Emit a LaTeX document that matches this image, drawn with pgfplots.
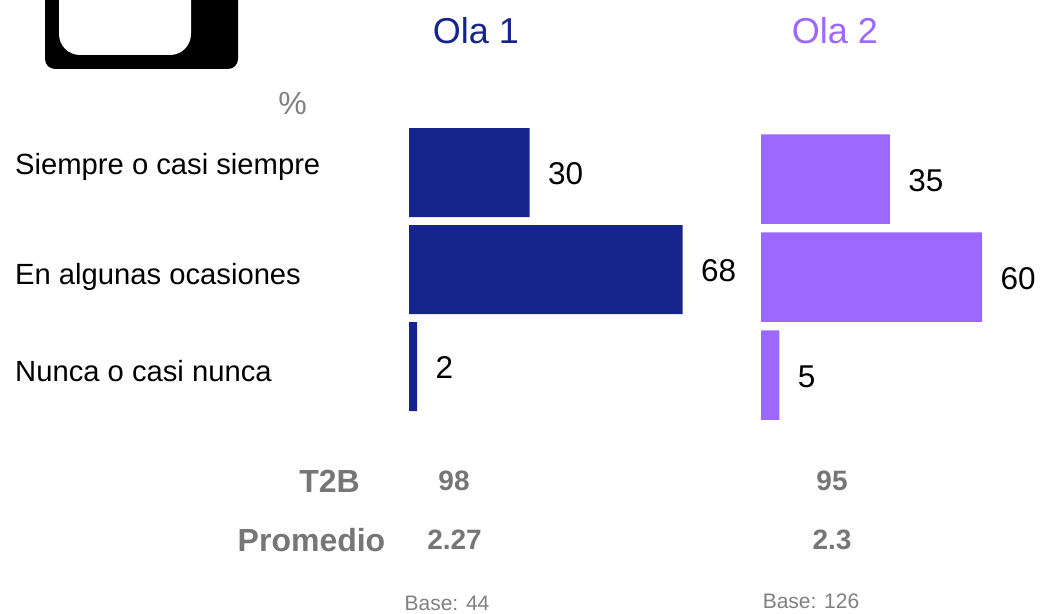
\documentclass[border=0pt]{standalone}
\usepackage{pgfplots}
\pgfplotsset{compat=1.18}
\usepackage{fontspec}
\setmainfont{Liberation Sans}
\definecolor{olaA}{HTML}{16258C}
\definecolor{olaB}{HTML}{9C68FF}
\definecolor{txtgray}{HTML}{767676}
\definecolor{basegray}{HTML}{808080}
\newcommand{\fs}[1]{\fontsize{#1}{#1}\selectfont}
\pgfplotsset{barax/.style={
  anchor=north west, scale only axis, hide axis, clip=false,
  xbar, xmin=0, ymin=0.5, ymax=3.5, y dir=reverse,
  bar width=#1,
  nodes near coords, nodes near coords align={horizontal},
  every node near coord/.append style={font=\fs{31.5}, text=black, xshift=15pt, yshift=-1.5pt, /pgf/number format/assume math mode=true},
}}
\begin{document}
\begin{tikzpicture}[x=1pt,y=1pt]
\path (0,0) rectangle (1043,612);
% icon clipped by the top edge
\begin{scope}
\clip (0,0) rectangle (1043,612);
\fill[black, rounded corners=10pt] (45,640) rectangle (238,543);
\fill[white, rounded corners=21pt] (59,640) rectangle (191,557);
\end{scope}
\begin{axis}[barax=89pt, at={(409pt,488pt)}, width=273.5pt, height=291pt, xmax=68]
\addplot[fill=olaA, draw=none] coordinates {(30,1) (68,2) (2,3)};
\end{axis}
\begin{axis}[barax=89.5pt, at={(761pt,482pt)}, width=221pt, height=294pt, xmax=60]
\addplot[fill=olaB, draw=none] coordinates {(35,1) (60,2) (5,3)};
\end{axis}
\node[text=olaA, font=\fs{36}] at (476,581) {Ola 1};
\node[text=olaB, font=\fs{36}] at (835,581) {Ola 2};
\node[text=basegray, font=\fs{32}] at (292.5,509) {\%};
\node[anchor=west, inner sep=0pt, font=\fs{29.2}] at (15,445.5) {Siempre o casi siempre};
\node[anchor=west, inner sep=0pt, font=\fs{29.2}] at (15,335.5) {En algunas ocasiones};
\node[anchor=west, inner sep=0pt, font=\fs{29.2}] at (15,241) {Nunca o casi nunca};
\node[text=txtgray, font=\fs{32}\bfseries] at (329.5,131) {T2B};
\node[text=txtgray, font=\fs{32}\bfseries] at (311.5,72) {Promedio};
\node[text=txtgray, font=\fs{28}\bfseries] at (454,131) {98};
\node[text=txtgray, font=\fs{28}\bfseries] at (832,131) {95};
\node[text=txtgray, font=\fs{28}\bfseries] at (454.5,72) {2.27};
\node[text=txtgray, font=\fs{28}\bfseries] at (832,72) {2.3};
\node[text=basegray, font=\fs{21}] at (447,9) {Base: 44};
\node[text=basegray, font=\fs{21}] at (811,11) {Base: 126};
\end{tikzpicture}
\end{document}
